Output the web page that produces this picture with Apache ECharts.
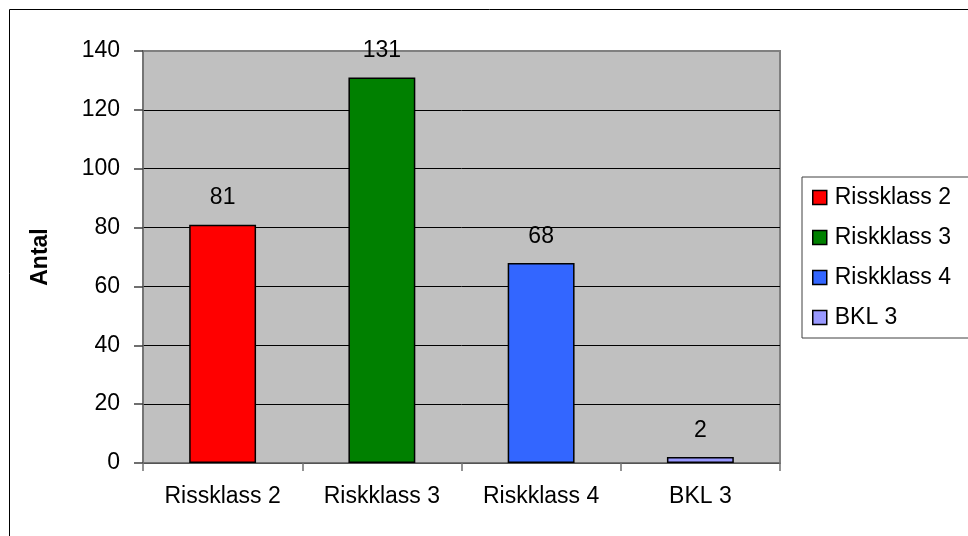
<!DOCTYPE html>
<html>
<head>
<meta charset="utf-8">
<script src="https://cdn.jsdelivr.net/npm/echarts@6/dist/echarts.min.js"></script>
<style>
  html, body { margin: 0; padding: 0; background: #fff; }
  #chart { width: 968px; height: 536px; }
</style>
</head>
<body>
<div id="chart"></div>
<script>
var categories = ['Rissklass 2', 'Riskklass 3', 'Riskklass 4', 'BKL 3'];
var values = [81, 131, 68, 2];
var colors = ['#FF0000', '#008000', '#3366FF', '#9999FF'];
var yTicks = [0, 20, 40, 60, 80, 100, 120, 140];

var font = '"Liberation Sans", Arial, sans-serif';
var chart = echarts.init(document.getElementById('chart'));

// one series per category so the legend lists each class
var series = categories.map(function (name, i) {
    var data = values.map(function (v, j) { return j === i ? v : null; });
    return {
        name: name,
        type: 'bar',
        stack: 'all',
        barWidth: '42%',
        data: data,
        itemStyle: { color: colors[i], borderColor: '#000', borderWidth: 1.5 },
        label: {
            show: true,
            position: 'top',
            distance: 15,
            color: '#000',
            fontFamily: font,
            fontSize: 23
        }
    };
});

// top gridline is grey like the plot border, the others black
var splitColors = yTicks.map(function (t, i) {
    return i === yTicks.length - 1 ? '#808080' : '#000';
});

var option = {
    animation: false,
    backgroundColor: '#fff',
    textStyle: { fontFamily: font },
    graphic: [{
        type: 'rect',
        shape: { x: 9.5, y: 9.5, width: 1200, height: 1200 },
        style: { fill: 'none', stroke: '#000', lineWidth: 1 },
        z: -1
    }],
    grid: {
        left: 143, top: 51, right: 188, bottom: 73,
        show: true,
        backgroundColor: '#C0C0C0',
        borderColor: '#808080',
        borderWidth: 2
    },
    legend: {
        orient: 'vertical',
        left: 802,
        top: 177,
        padding: [9, 40, 9, 10],
        itemGap: 17,
        itemWidth: 14,
        itemHeight: 14,
        icon: 'rect',
        backgroundColor: '#fff',
        borderColor: '#404040',
        borderWidth: 1,
        itemStyle: { borderColor: '#000', borderWidth: 1.5 },
        textStyle: { fontFamily: font, fontSize: 23, color: '#000', padding: [0, 0, 0, 3] },
        data: categories
    },
    xAxis: {
        type: 'category',
        data: categories,
        axisLine: { lineStyle: { color: '#707070', width: 1.5 } },
        axisTick: { show: true, length: 8, lineStyle: { color: '#707070', width: 1.5 } },
        axisLabel: { margin: 22, color: '#000', fontFamily: font, fontSize: 23 }
    },
    yAxis: {
        type: 'value',
        min: 0,
        max: 140,
        interval: 20,
        name: 'Antal',
        nameLocation: 'middle',
        nameRotate: 90,
        nameGap: 91,
        nameTextStyle: { fontFamily: font, fontSize: 23, fontWeight: 'bold', color: '#000' },
        axisLine: { show: true, lineStyle: { color: '#707070', width: 1.5 } },
        axisTick: { show: true, length: 9, lineStyle: { color: '#404040', width: 1.5 } },
        axisLabel: { margin: 23, color: '#000', fontFamily: font, fontSize: 23 },
        splitLine: { show: true, lineStyle: { color: splitColors, width: 1 } }
    },
    series: series
};
chart.setOption(option);
</script>
</body>
</html>
